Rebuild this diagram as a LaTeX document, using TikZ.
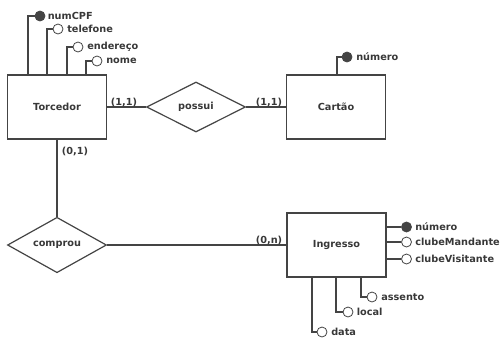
\documentclass[tikz,border=0pt]{standalone}
\usepackage{fontspec}
\setmainfont{DejaVu Sans}
\usetikzlibrary{shapes.geometric}
\definecolor{ln}{HTML}{444444}
\definecolor{tx}{HTML}{383838}
\begin{document}
\begin{tikzpicture}[x=0.75pt,y=-0.75pt,
  every node/.style={font=\fontsize{7.3}{8}\selectfont\bfseries, text=tx},
  entity/.style={draw=ln, line width=0.9pt, rectangle, minimum width=74.25pt, minimum height=48pt, inner sep=0pt},
  rel/.style={draw=ln, line width=0.9pt, diamond, minimum width=74.25pt, minimum height=37.5pt, inner sep=0pt},
  keyatt/.style={draw=ln, fill=ln, circle, minimum size=7.5pt, inner sep=0pt, line width=0.6pt},
  att/.style={draw=ln, fill=white, circle, minimum size=7.5pt, inner sep=0pt, line width=0.6pt},
  atxt/.style={anchor=west, inner sep=0pt},
  card/.style={inner sep=0pt},
  conn/.style={draw=ln, line width=0.8pt}]
\useasboundingbox (0,0) rectangle (500,340);

% entities and relationships
\node[entity] (tor) at (57,107) {Torcedor};
\node[entity] (car) at (336,107) {Cartão};
\node[entity] (ing) at (336.5,245) {Ingresso};
\node[rel] (pos) at (196,107) {possui};
\node[rel] (com) at (57,245) {comprou};

% relationship connectors
\draw[conn] (tor) -- (pos);
\draw[conn] (pos) -- (car);
\draw[conn] (tor) -- (com);
\draw[conn] (com) -- (ing);

% cardinalities
\node[card] (c1) at (124,102) {(1,1)};
\node[card] (c2) at (269,102) {(1,1)};
\node[card] (c3) at (75,151) {(0,1)};
\node[card] (c4) at (269,240) {(0,n)};

% Torcedor attributes
\node[keyatt] (a1) at (40,16) {};
\node[att] (a2) at (58,29) {};
\node[att] (a3) at (78,47) {};
\node[att] (a4) at (97,61) {};
\node[atxt] (l1) at (47.5,16) {numCPF};
\node[atxt] (l2) at (67,29) {telefone};
\node[atxt] (l3) at (87,47) {endereço};
\node[atxt] (l4) at (106,61) {nome};
\coordinate (t1) at (28,75);
\coordinate (t2) at (47,75);
\coordinate (t3) at (67,75);
\coordinate (t4) at (86,75);
\draw[conn] (t1) |- (a1);
\draw[conn] (t2) |- (a2);
\draw[conn] (t3) |- (a3);
\draw[conn] (t4) |- (a4);

% Cartao attribute
\node[keyatt] (b1) at (347,57) {};
\node[atxt] (m1) at (356,57) {número};
\coordinate (u1) at (337,75);
\draw[conn] (u1) |- (b1);

% Ingresso attributes right
\node[keyatt] (i1) at (406.5,227) {};
\node[att] (i2) at (406.5,242) {};
\node[att] (i3) at (406.5,259) {};
\node[atxt] (n1) at (415,227) {número};
\node[atxt] (n2) at (415,242) {clubeMandante};
\node[atxt] (n3) at (415,259) {clubeVisitante};
\draw[conn] (ing.east |- i1) -- (i1);
\draw[conn] (ing.east |- i2) -- (i2);
\draw[conn] (ing.east |- i3) -- (i3);

% Ingresso attributes bottom
\node[att] (i4) at (372,297) {};
\node[att] (i5) at (348,312) {};
\node[att] (i6) at (322,332) {};
\node[atxt] (n4) at (381,297) {assento};
\node[atxt] (n5) at (356.5,312) {local};
\node[atxt] (n6) at (331,332) {data};
\coordinate (v4) at (361,277);
\coordinate (v5) at (336,277);
\coordinate (v6) at (312,277);
\draw[conn] (v4) |- (i4);
\draw[conn] (v5) |- (i5);
\draw[conn] (v6) |- (i6);
\end{tikzpicture}
\end{document}
